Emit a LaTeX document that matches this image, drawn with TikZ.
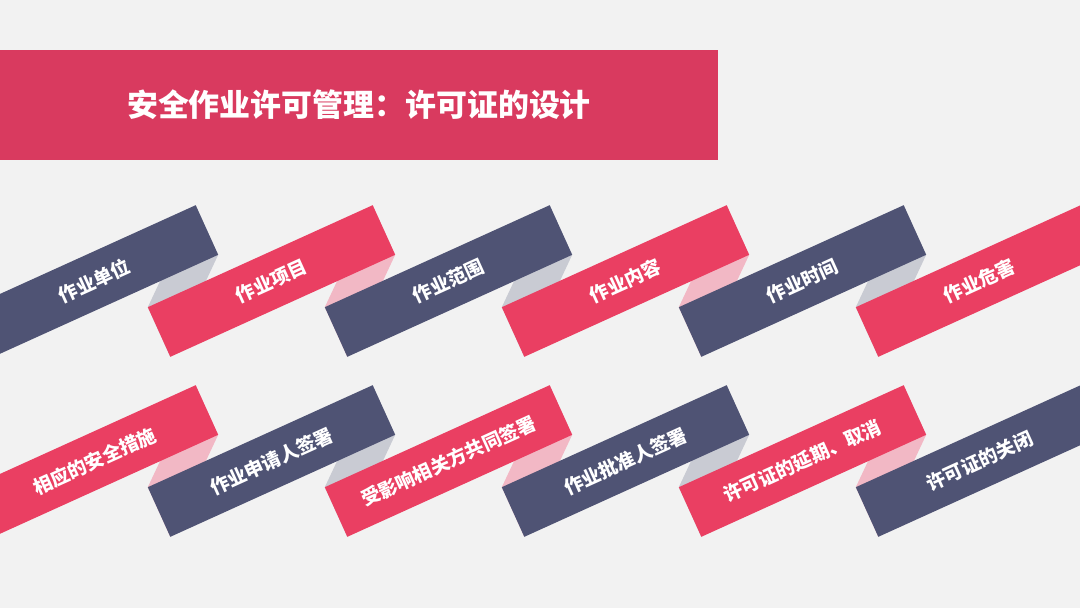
\documentclass[tikz,border=0pt]{standalone}
\usepackage{fontspec}
\newfontfamily\cjk{Noto Sans CJK SC}
\usepackage{xcolor}
\usepackage{tikz}
\definecolor{paper}{HTML}{F2F2F2}
\definecolor{crimson}{HTML}{D93A5F}
\definecolor{rose}{HTML}{EA3F62}
\definecolor{slate}{HTML}{4F5374}
\definecolor{foldgrey}{HTML}{C9CBD3}
\definecolor{foldpink}{HTML}{F2B8C5}
\pgfdeclarelayer{backdrop}
\pgfdeclarelayer{folds}
\pgfsetlayers{backdrop,folds,main}

\begin{document}
\begin{tikzpicture}[x=0.02cm, y=-0.02cm,
        ribbon/.style={rotate=24.4, minimum width=4.94cm, minimum height=1.09cm,
              inner sep=0pt, outer sep=0pt, text=white,
              font={\cjk\bfseries\fontsize{10.8}{12}\selectfont}},
        banner/.style={fill=crimson, minimum width=14.36cm, minimum height=2.2cm,
              inner sep=0pt, outer sep=0pt, text=white,
              font={\cjk\bfseries\fontsize{17.6}{20}\selectfont}}]
        \useasboundingbox (0,0) rectangle (1080,608);
        \begin{pgfonlayer}{backdrop}
            \fill[paper] (0,0) rectangle (1080,608);
        \end{pgfonlayer}

        % title bar
        \node[banner] (title) at (359,105) {安全作业许可管理：许可证的设计};

        % first row
        \foreach \i/\col/\txt in {0/slate/作业单位, 1/rose/作业项目, 2/slate/作业范围,
                                  3/rose/作业内容, 4/slate/作业时间, 5/rose/作业危害}
            \node[ribbon, fill=\col] (a\i) at (94.5+177*\i, 281) {\txt};

        % second row
        \foreach \i/\col/\txt in {0/rose/相应的安全措施, 1/slate/作业申请人签署,
                                  2/rose/受影响相关方共同签署, 3/slate/作业批准人签署,
                                  4/rose/许可证的延期、取消, 5/slate/许可证的关闭}
            \node[ribbon, fill=\col] (b\i) at (94.5+177*\i, 461) {\txt};

        % folds between the ribbons
        \begin{pgfonlayer}{folds}
            \foreach \i/\j/\col in {0/1/foldgrey, 1/2/foldpink, 2/3/foldgrey, 3/4/foldpink, 4/5/foldgrey}
                \fill[\col] (a\i.north east) -- (a\i.south east) -- (a\j.south west) -- (a\j.north west) -- cycle;
            \foreach \i/\j/\col in {0/1/foldpink, 1/2/foldgrey, 2/3/foldpink, 3/4/foldgrey, 4/5/foldpink}
                \fill[\col] (b\i.north east) -- (b\i.south east) -- (b\j.south west) -- (b\j.north west) -- cycle;
        \end{pgfonlayer}
    \end{tikzpicture}
\end{document}
